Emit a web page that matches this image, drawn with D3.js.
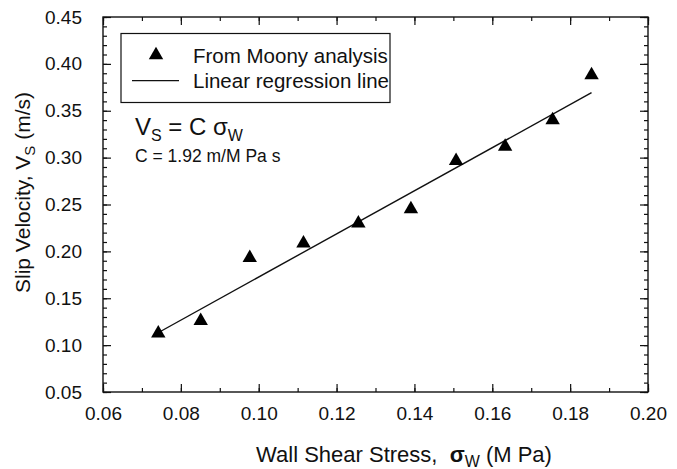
<!DOCTYPE html>
<html>
<head>
<meta charset="utf-8">
<script src="https://cdn.jsdelivr.net/npm/d3@7"></script>
<style>
  html, body { margin: 0; padding: 0; background: #fff; }
  svg { display: block; }
  text { font-family: "Liberation Sans", Arial, Helvetica, sans-serif; fill: #111; }
</style>
</head>
<body>
<svg id="chart" width="677" height="469"></svg>
<script>
// ---- data ----
const stressX = [0.0742, 0.0851, 0.0977, 0.1115, 0.1256, 0.1391, 0.1507, 0.1633, 0.1755, 0.1855];
const slipY   = [0.1126, 0.1260, 0.1930, 0.2086, 0.2300, 0.2452, 0.2967, 0.3117, 0.3400, 0.3880];
const regLineX = [0.0745, 0.1855];
const regLineY = [0.1140, 0.3693];
const xTickLabels = ["0.06", "0.08", "0.10", "0.12", "0.14", "0.16", "0.18", "0.20"];
const yTickLabels = ["0.05", "0.10", "0.15", "0.20", "0.25", "0.30", "0.35", "0.40", "0.45"];
const legendLabels = ["From Moony analysis", "Linear regression line"];

// ---- layout ----
const svg = d3.select("#chart");
const L = 103, T = 17, W = 545, H = 375;
const x = d3.scaleLinear().domain([0.06, 0.20]).range([L, L + W]);
const y = d3.scaleLinear().domain([0.05, 0.45]).range([T + H, T]);

const ink = "#111";
const xMinor = d3.range(0, 15).map(i => 0.06 + i * 0.01);
const yMinor = d3.range(0, 41).map(i => 0.05 + i * 0.01);
const xMajor = xTickLabels.map(Number);
const yMajor = yTickLabels.map(Number);

function styleAxis(g) {
  g.select(".domain").remove();
  g.selectAll("line").attr("stroke", ink).attr("stroke-width", 1.2);
}
// bottom
svg.append("g").attr("transform", `translate(0,${T + H})`)
  .call(d3.axisBottom(x).tickValues(xMinor).tickSize(-4).tickFormat(""))
  .call(styleAxis);
svg.append("g").attr("transform", `translate(0,${T + H})`)
  .call(d3.axisBottom(x).tickValues(xMajor).tickSize(-8).tickPadding(15)
        .tickFormat((d, i) => xTickLabels[i]))
  .call(styleAxis)
  .call(g => g.selectAll("text").attr("font-size", 19).attr("fill", ink)
      .attr("font-family", "Liberation Sans, Arial, sans-serif"));
// top
svg.append("g").attr("transform", `translate(0,${T})`)
  .call(d3.axisTop(x).tickValues(xMinor).tickSize(-4).tickFormat(""))
  .call(styleAxis);
svg.append("g").attr("transform", `translate(0,${T})`)
  .call(d3.axisTop(x).tickValues(xMajor).tickSize(-8).tickFormat(""))
  .call(styleAxis);
// left
svg.append("g").attr("transform", `translate(${L},0)`)
  .call(d3.axisLeft(y).tickValues(yMinor).tickSize(-4).tickFormat(""))
  .call(styleAxis);
svg.append("g").attr("transform", `translate(${L},0)`)
  .call(d3.axisLeft(y).tickValues(yMajor).tickSize(-8).tickPadding(21)
        .tickFormat((d, i) => yTickLabels[i]))
  .call(styleAxis)
  .call(g => g.selectAll("text").attr("font-size", 19).attr("fill", ink)
      .attr("font-family", "Liberation Sans, Arial, sans-serif"));
// right
svg.append("g").attr("transform", `translate(${L + W},0)`)
  .call(d3.axisRight(y).tickValues(yMinor).tickSize(-4).tickFormat(""))
  .call(styleAxis);
svg.append("g").attr("transform", `translate(${L + W},0)`)
  .call(d3.axisRight(y).tickValues(yMajor).tickSize(-8).tickFormat(""))
  .call(styleAxis);

// frame
svg.append("rect").attr("x", L).attr("y", T).attr("width", W).attr("height", H)
  .attr("fill", "none").attr("stroke", ink).attr("stroke-width", 1.4);

// regression line
const line = d3.line().x(d => x(d[0])).y(d => y(d[1]));
svg.append("path").datum(d3.zip(regLineX, regLineY))
  .attr("d", line).attr("fill", "none").attr("stroke", ink).attr("stroke-width", 1.4);

// points
const tri = d3.symbol().type(d3.symbolTriangle).size(90);
svg.append("g").selectAll("path").data(d3.zip(stressX, slipY)).join("path")
  .attr("d", tri)
  .attr("transform", d => `translate(${x(d[0])},${y(d[1])})`)
  .attr("fill", "#000");

// legend
const lg = svg.append("g");
lg.append("rect").attr("x", 121).attr("y", 33.5).attr("width", 269).attr("height", 69)
  .attr("fill", "#fff").attr("stroke", ink).attr("stroke-width", 1.2);
lg.append("path").attr("d", tri).attr("transform", "translate(156,55)").attr("fill", "#000");
lg.append("line").attr("x1", 132).attr("x2", 179).attr("y1", 80.7).attr("y2", 80.7)
  .attr("stroke", ink).attr("stroke-width", 1.3);
lg.append("text").attr("x", 193).attr("y", 62.7).attr("font-size", 20.5).text(legendLabels[0]);
lg.append("text").attr("x", 193).attr("y", 88.3).attr("font-size", 20.5).text(legendLabels[1]);

// equation
const eq = svg.append("text").attr("x", 135).attr("y", 135).attr("font-size", 24);
eq.append("tspan").text("V");
eq.append("tspan").attr("font-size", 16).attr("dy", 6).text("S");
eq.append("tspan").attr("dy", -6).text(" = C ");
eq.append("tspan").text("σ");
eq.append("tspan").attr("font-size", 16).attr("dy", 6).text("W");
svg.append("text").attr("x", 135).attr("y", 162).attr("font-size", 17.5).text("C = 1.92 m/M Pa s");

// x title
const xt = svg.append("text").attr("x", 404).attr("y", 462).attr("text-anchor", "middle").attr("font-size", 22);
xt.append("tspan").text("Wall Shear Stress,\u00A0\u00A0");
xt.append("tspan").attr("font-weight", "bold").text("σ");
xt.append("tspan").attr("font-size", 16).attr("dy", 5).text("W");
xt.append("tspan").attr("dy", -5).text(" (M Pa)");

// y title
const yt = svg.append("text").attr("transform", `translate(30,${T + H / 2 - 12}) rotate(-90)`)
  .attr("text-anchor", "middle").attr("font-size", 21);
yt.append("tspan").text("Slip Velocity, V");
yt.append("tspan").attr("font-size", 15).attr("dy", 5).text("S");
yt.append("tspan").attr("dy", -5).text(" (m/s)");
</script>
</body>
</html>
